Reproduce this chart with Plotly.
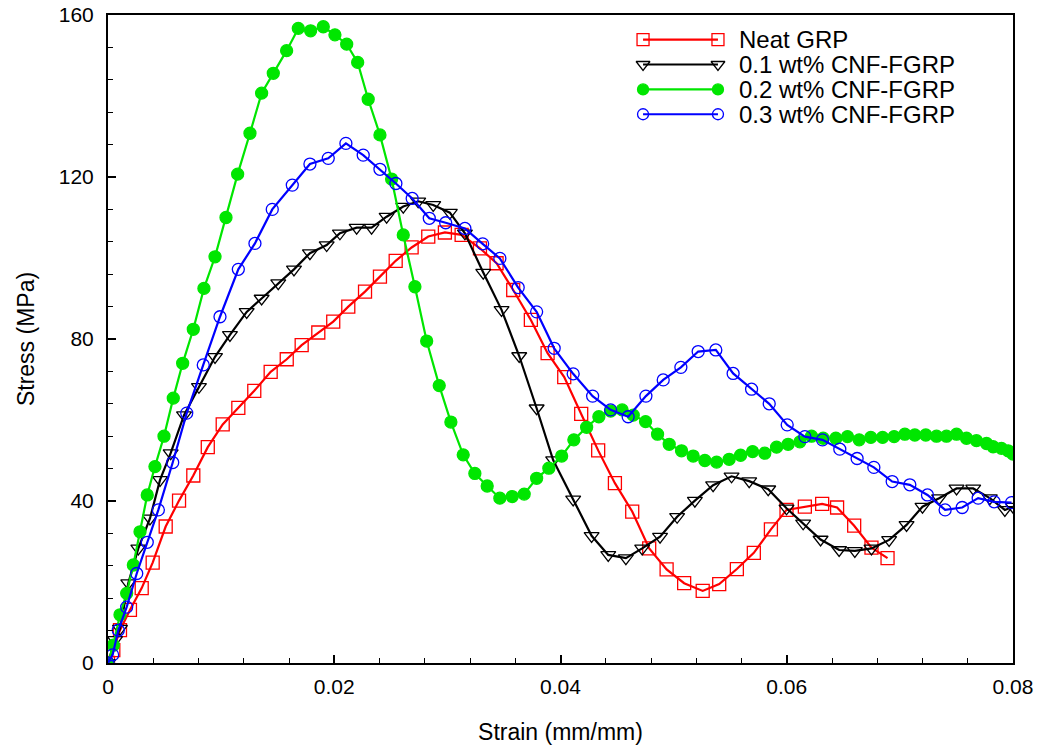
import plotly.graph_objects as go

# Stress-strain curves (strain in mm/mm, stress in MPa)
neat_strain = [0.0, 0.00047, 0.00106, 0.00194, 0.00298, 0.00395, 0.0051, 0.00628, 0.00754, 0.00882,
               0.01014, 0.01152, 0.01293, 0.01438, 0.0158, 0.01712, 0.01859, 0.01991, 0.02124, 0.02272,
               0.02404, 0.02543, 0.02684, 0.02831, 0.02978, 0.03126, 0.03288, 0.03435, 0.03582, 0.03738,
               0.03886, 0.04033, 0.04183, 0.04333, 0.04481, 0.04634, 0.04784, 0.04938, 0.05093, 0.05257,
               0.05403, 0.05559, 0.05709, 0.0586, 0.05998, 0.0616, 0.06313, 0.06445, 0.06596, 0.06749,
               0.06891]
neat_stress = [0.0, 3.2, 8.1, 13.1, 18.5, 24.8, 33.7, 40.1, 46.3, 53.3,
               58.9, 63.0, 67.2, 71.9, 75.0, 78.5, 81.6, 84.3, 88.0, 91.7,
               95.4, 99.3, 102.6, 105.3, 106.3, 105.7, 102.4, 98.7, 92.1, 84.7,
               76.5, 70.6, 61.5, 52.5, 44.4, 37.4, 28.3, 23.1, 19.7, 17.8,
               19.5, 23.2, 27.2, 33.0, 37.8, 38.6, 39.3, 38.4, 33.9, 28.5,
               25.9]

cnf01_strain = [0.0, 0.00062, 0.00106, 0.00179, 0.00268, 0.00371, 0.0046, 0.00554, 0.00672, 0.00804,
                0.00946, 0.01078, 0.01226, 0.01358, 0.01505, 0.01644, 0.01785, 0.01933, 0.0205, 0.02198,
                0.0233, 0.02463, 0.0261, 0.02742, 0.02875, 0.03022, 0.03155, 0.03317, 0.03479, 0.03635,
                0.03789, 0.03935, 0.04112, 0.04275, 0.04422, 0.04578, 0.04722, 0.0488, 0.05031, 0.05188,
                0.05349, 0.05512, 0.05668, 0.05836, 0.05998, 0.06145, 0.06299, 0.06463, 0.06602, 0.06749,
                0.06905, 0.07059, 0.072, 0.07347, 0.07501, 0.07648, 0.07795, 0.07928, 0.08]
cnf01_stress = [0.0, 5.7, 8.5, 19.7, 28.3, 35.7, 45.2, 51.8, 61.2, 68.2,
                75.6, 81.0, 86.7, 90.0, 93.8, 97.2, 101.2, 103.2, 106.1, 107.5,
                107.5, 110.2, 112.7, 114.0, 113.1, 111.2, 106.1, 96.4, 87.2, 75.8,
                62.9, 50.1, 40.4, 31.4, 26.7, 25.9, 28.3, 31.2, 36.1, 40.1,
                43.9, 46.1, 44.9, 42.9, 38.2, 34.5, 30.5, 27.9, 27.7, 28.3,
                30.4, 34.1, 38.6, 40.7, 43.1, 43.1, 40.7, 37.8, 38.6]

cnf02_strain = [0.0, 0.00047, 0.00106, 0.00165, 0.00224, 0.00283, 0.00347, 0.00415, 0.00495, 0.00577,
                0.0066, 0.00754, 0.00848, 0.00946, 0.01043, 0.01146, 0.01255, 0.01358, 0.01461, 0.01579,
                0.01682, 0.01791, 0.01903, 0.02006, 0.0211, 0.02207, 0.023, 0.02404, 0.02507, 0.0261,
                0.02713, 0.02817, 0.02928, 0.03031, 0.0314, 0.03243, 0.03352, 0.03464, 0.03573, 0.03679,
                0.03789, 0.03897, 0.0401, 0.04118, 0.04231, 0.04339, 0.04443, 0.04545, 0.04643, 0.04752,
                0.04858, 0.04961, 0.0507, 0.05173, 0.05276, 0.0538, 0.05491, 0.05592, 0.05698, 0.05806,
                0.0591, 0.06012, 0.06116, 0.06219, 0.06322, 0.06434, 0.06537, 0.0664, 0.06743, 0.06847,
                0.06949, 0.07044, 0.07132, 0.07229, 0.07324, 0.07412, 0.07501, 0.07589, 0.07677, 0.07766,
                0.07824, 0.07898, 0.07957, 0.08]
cnf02_stress = [0.0, 4.4, 11.9, 17.2, 24.2, 32.4, 41.5, 48.5, 56.0, 65.4,
                74.0, 82.4, 92.5, 100.3, 110.0, 120.7, 130.8, 140.7, 145.6, 151.2,
                156.7, 156.1, 157.1, 155.1, 152.8, 148.3, 139.2, 130.4, 119.5, 105.7,
                92.9, 79.5, 68.5, 59.5, 51.4, 46.8, 43.7, 40.7, 41.1, 41.7,
                45.6, 48.1, 51.1, 55.1, 58.2, 60.8, 62.2, 62.5, 61.2, 59.6,
                56.5, 54.0, 52.4, 51.1, 50.0, 49.6, 50.3, 51.3, 52.2, 51.8,
                53.3, 54.0, 54.6, 56.0, 55.5, 55.5, 55.9, 55.1, 55.7, 55.7,
                55.9, 56.5, 56.3, 56.3, 56.0, 56.0, 56.5, 55.5, 54.9, 54.2,
                53.4, 53.0, 52.4, 51.6]

cnf03_strain = [0.0, 0.00041, 0.00091, 0.00165, 0.00254, 0.00347, 0.00445, 0.00572, 0.00696, 0.00842,
                0.0099, 0.01152, 0.01299, 0.01452, 0.01629, 0.01785, 0.01947, 0.02103, 0.02256, 0.02404,
                0.02545, 0.02689, 0.0284, 0.02985, 0.03155, 0.03312, 0.03464, 0.03626, 0.03789, 0.03944,
                0.04112, 0.04284, 0.04443, 0.04598, 0.04755, 0.04908, 0.05064, 0.05217, 0.05373, 0.05526,
                0.05689, 0.05845, 0.06004, 0.0616, 0.06316, 0.06469, 0.06622, 0.0677, 0.06932, 0.07088,
                0.07244, 0.074, 0.07551, 0.07692, 0.07833, 0.07987]
cnf03_stress = [0.0, 2.0, 8.1, 13.8, 22.1, 29.8, 37.8, 49.5, 61.7, 73.6,
                85.5, 97.2, 103.6, 112.0, 118.0, 123.2, 124.6, 128.3, 125.4, 121.9,
                118.4, 114.7, 109.8, 108.7, 107.3, 103.5, 99.9, 92.7, 86.7, 77.7,
                71.4, 65.9, 62.5, 60.8, 65.9, 69.9, 73.0, 76.9, 77.3, 71.5,
                67.6, 64.0, 58.8, 55.9, 55.1, 52.8, 50.5, 48.3, 44.8, 44.0,
                41.5, 37.8, 38.4, 40.7, 39.8, 39.6]

series_names = ["Neat GRP", "0.1 wt% CNF-FGRP", "0.2 wt% CNF-FGRP", "0.3 wt% CNF-FGRP"]
x_ticks = [0, 0.02, 0.04, 0.06, 0.08]
x_tick_text = ["0", "0.02", "0.04", "0.06", "0.08"]
y_ticks = [0, 40, 80, 120, 160]

FONT = "Liberation Sans, Arial, sans-serif"

styles = [
    dict(color="#ff0000", symbol="square-open", size=13),
    dict(color="#000000", symbol="triangle-down-open", size=13),
    dict(color="#00e600", symbol="circle", size=12),
    dict(color="#0000ff", symbol="circle-open", size=12),
]
data = [(neat_strain, neat_stress), (cnf01_strain, cnf01_stress),
        (cnf02_strain, cnf02_stress), (cnf03_strain, cnf03_stress)]

fig = go.Figure()
for (xs, ys), st, name in zip(data, styles, series_names):
    fig.add_trace(go.Scatter(
        x=xs, y=ys, mode="lines+markers", name=name, showlegend=False,
        line=dict(color=st["color"], width=2.2),
        marker=dict(symbol=st["symbol"], size=st["size"], color=st["color"],
                    line=dict(color=st["color"], width=1.3)),
        cliponaxis=True,
    ))

# Legend keys: short line with a marker at each end, drawn on an overlay axis
key_x0, key_x1, text_x = 0.5912, 0.674, 0.695
key_rows = [0.9620, 0.9236, 0.8852, 0.8468]
for st, name, ky in zip(styles, series_names, key_rows):
    fig.add_trace(go.Scatter(
        x=[key_x0, key_x1], y=[ky, ky], xaxis="x2", yaxis="y2",
        mode="lines+markers", showlegend=False, hoverinfo="skip",
        line=dict(color=st["color"], width=2.2),
        marker=dict(symbol=st["symbol"], size=st["size"] - 1, color=st["color"],
                    line=dict(color=st["color"], width=1.3)),
        cliponaxis=False,
    ))
    fig.add_annotation(x=text_x, y=ky, xref="paper", yref="paper", text=name,
                       showarrow=False, xanchor="left", yanchor="middle",
                       font=dict(family=FONT, size=24, color="black"))

fig.update_layout(
    width=1038, height=747,
    margin=dict(l=108, r=25, t=15, b=84),
    paper_bgcolor="white", plot_bgcolor="white",
    font=dict(family=FONT, color="black"),
    xaxis=dict(
        range=[0, 0.08], tickvals=x_ticks, ticktext=x_tick_text, automargin=False,
        ticks="inside", ticklen=8, tickwidth=1.5, tickcolor="black",
        showline=True, linecolor="black", linewidth=2, mirror=True,
        showgrid=False, zeroline=False,
        tickfont=dict(family=FONT, size=21, color="black"),
        ticklabelstandoff=4,
        minor=dict(dtick=0.004, ticks="inside", ticklen=5, tickwidth=1.2, tickcolor="black", showgrid=False),
        title=dict(text="Strain (mm/mm)", font=dict(family=FONT, size=23, color="black"), standoff=27),
    ),
    yaxis=dict(
        range=[0, 160], tickvals=y_ticks, automargin=False,
        ticks="inside", ticklen=8, tickwidth=1.5, tickcolor="black",
        showline=True, linecolor="black", linewidth=2, mirror=True,
        showgrid=False, zeroline=False,
        tickfont=dict(family=FONT, size=21, color="black"),
        ticklabelstandoff=8,
        minor=dict(dtick=8, ticks="inside", ticklen=5, tickwidth=1.2, tickcolor="black", showgrid=False),
        title=dict(text="Stress (MPa)", font=dict(family=FONT, size=23, color="black"), standoff=18),
    ),
    xaxis2=dict(range=[0, 1], overlaying="x", visible=False, fixedrange=True),
    yaxis2=dict(range=[0, 1], overlaying="y", visible=False, fixedrange=True),
)

fig.write_html("out.html")
